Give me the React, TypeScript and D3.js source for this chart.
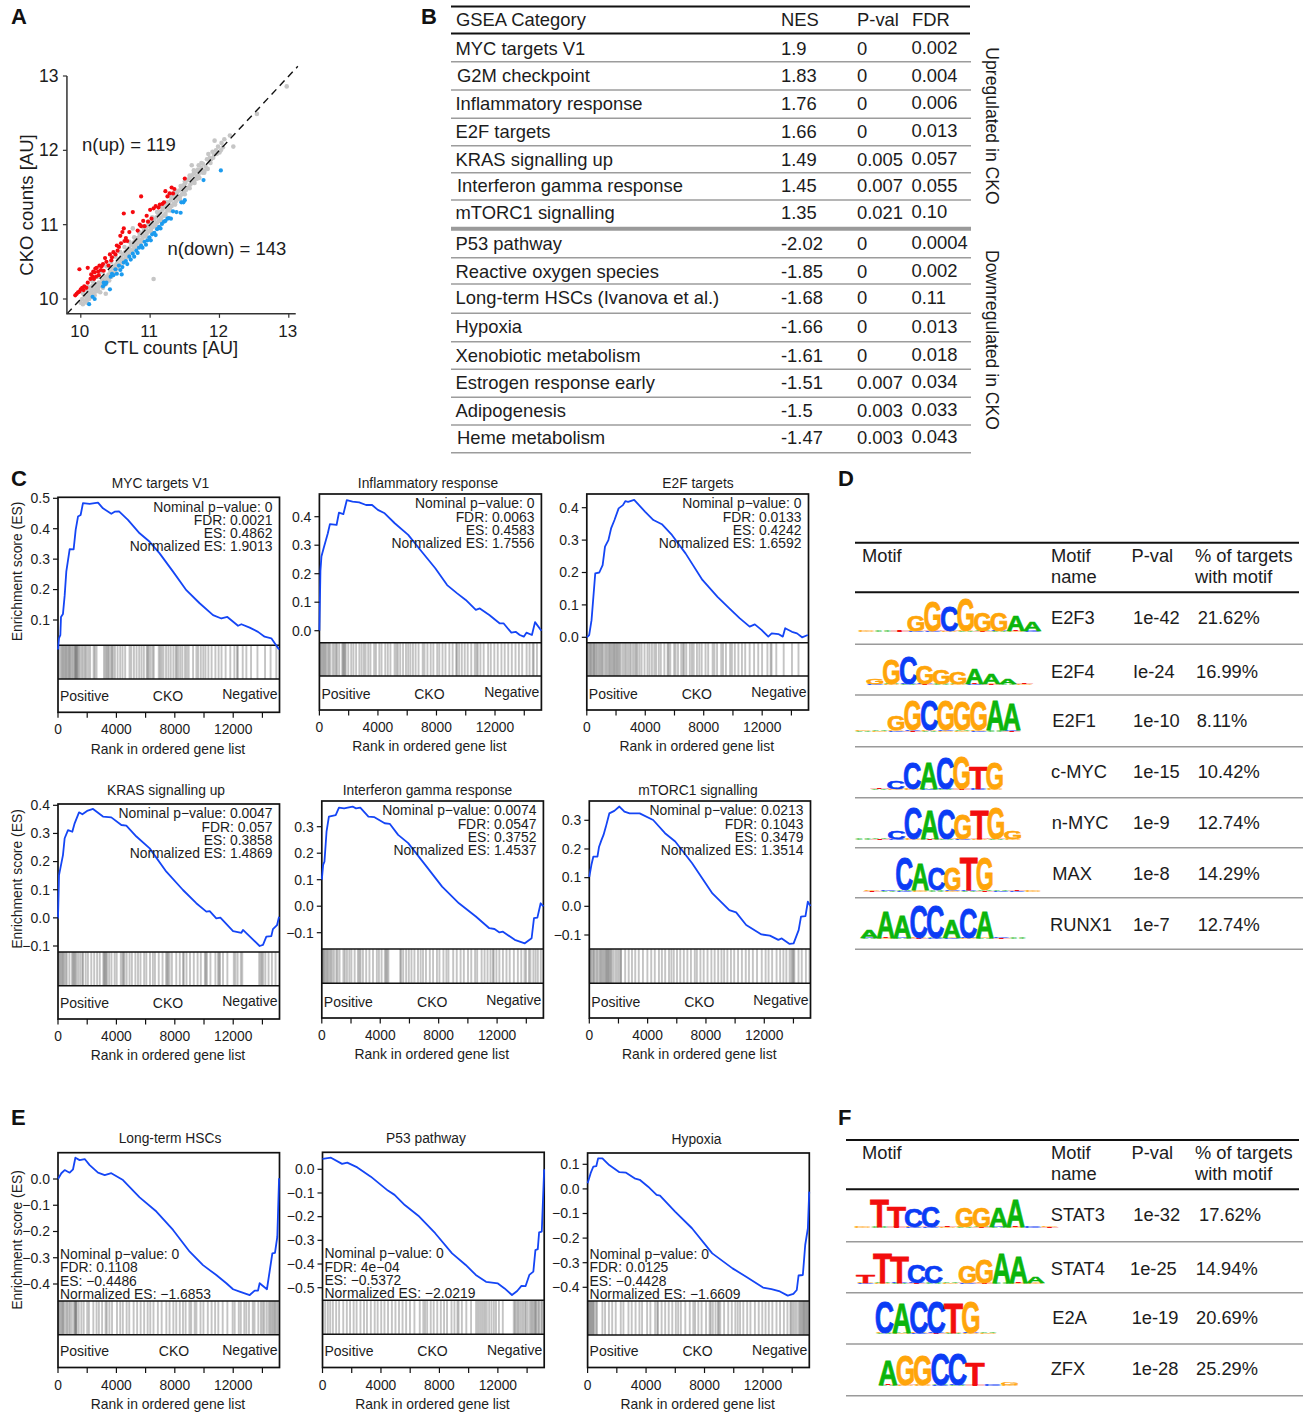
import React from "react";
import * as d3 from "d3";

const FONT = "'Liberation Sans', Arial, sans-serif";

// ---------- Panel A data ----------
const scatterGray: number[][] = [[10.0,9.95],[10.02,10.0],[10.03,9.93],[10.05,10.05],[10.06,9.97],[10.08,10.02],[10.09,9.95],[10.1,10.1],[10.11,10.05],[10.12,10.0],[10.13,10.15],[10.14,10.08],[10.15,10.03],[10.16,10.12],[10.17,10.18],[10.18,10.07],[10.19,10.13],[10.2,10.05],[10.21,10.2],[10.22,10.1],[10.23,10.16],[10.25,10.12],[10.26,10.22],[10.27,10.17],[10.28,10.09],[10.3,10.2],[10.31,10.26],[10.32,10.15],[10.34,10.24],[10.35,10.3],[10.36,10.2],[10.38,10.27],[10.4,10.33],[10.41,10.25],[10.43,10.37],[10.44,10.3],[10.46,10.41],[10.47,10.34],[10.49,10.45],[10.5,10.38],[10.52,10.48],[10.53,10.42],[10.55,10.53],[10.56,10.46],[10.58,10.56],[10.59,10.5],[10.61,10.6],[10.62,10.53],[10.64,10.63],[10.65,10.57],[10.67,10.66],[10.68,10.6],[10.7,10.69],[10.71,10.63],[10.73,10.73],[10.74,10.66],[10.76,10.76],[10.77,10.7],[10.79,10.79],[10.8,10.73],[10.82,10.82],[10.83,10.76],[10.85,10.86],[10.86,10.79],[10.88,10.88],[10.89,10.82],[10.91,10.92],[10.92,10.85],[10.94,10.94],[10.95,10.88],[10.97,10.98],[10.98,10.91],[11.0,11.0],[11.01,10.94],[11.03,11.03],[11.04,10.97],[11.06,11.07],[11.07,11.0],[11.09,11.1],[11.1,11.03],[11.12,11.13],[11.13,11.06],[11.15,11.17],[11.16,11.09],[11.18,11.2],[11.19,11.12],[11.21,11.23],[11.22,11.15],[11.24,11.27],[11.25,11.19],[11.27,11.3],[11.28,11.22],[11.3,11.33],[11.31,11.25],[11.33,11.36],[11.34,11.28],[11.36,11.4],[11.37,11.31],[11.39,11.43],[11.4,11.35],[11.42,11.46],[11.43,11.38],[11.45,11.5],[11.46,11.41],[11.48,11.53],[11.49,11.44],[11.51,11.56],[11.52,11.47],[11.54,11.6],[11.55,11.5],[11.57,11.63],[11.58,11.54],[11.6,11.66],[11.61,11.57],[11.63,11.69],[11.64,11.6],[11.66,11.72],[11.67,11.65],[11.69,11.74],[11.7,11.68],[11.72,11.72],[11.74,11.76],[11.76,11.7],[11.78,11.72],[11.8,11.78],[11.83,11.75],[11.84,11.95],[11.86,11.9],[11.88,11.88],[11.9,11.98],[11.92,11.94],[11.93,12.13],[11.95,12.0],[11.98,12.05],[12.0,11.97],[12.03,12.1],[12.05,12.04],[12.07,12.15],[12.15,12.2],[12.2,12.05],[11.6,11.8],[10.75,10.95],[11.05,10.27],[12.54,12.49],[12.97,12.86],[10.36,10.07],
[10.03,10.08],[10.1,10.16],[10.17,10.24],[10.24,10.3],[10.3,10.37],[10.37,10.44],[10.44,10.5],[10.5,10.57],[10.57,10.63],[10.63,10.7],[10.7,10.77],[10.77,10.83],[10.84,10.9],[10.9,10.97],[10.97,11.04],[11.03,11.1],[11.1,11.17],[11.17,11.24],[11.24,11.3],[11.3,11.38],[11.37,11.45],[11.44,11.52],[11.5,11.58],[11.57,11.66],[11.63,11.73],[11.7,11.8],[11.76,11.82],[11.82,11.88],[11.87,11.83],[11.91,11.9],[11.96,11.95],[12.02,12.0],[11.74,11.83],[11.68,11.62],
[10.1,10.0],[10.17,10.07],[10.24,10.14],[10.31,10.21],[10.38,10.28],[10.45,10.35],[10.52,10.42],[10.59,10.49],[10.66,10.56],[10.73,10.63],[10.8,10.7],[10.87,10.77],[10.94,10.84],[11.01,10.91],[11.08,10.98],[11.15,11.05],[11.22,11.12],[11.29,11.19],[11.36,11.27],[11.43,11.34],[11.5,11.41],[11.57,11.49],[11.64,11.56],[11.71,11.63],[11.78,11.7]];
const scatterRed: number[][] = [[9.92,10.05],[9.94,10.07],[9.96,10.09],[9.98,10.1],[10.0,10.13],[10.02,10.15],[10.04,10.12],[10.05,10.17],[10.08,10.15],[10.1,10.22],[9.98,10.4],[10.1,10.42],[10.14,10.27],[10.15,10.33],[10.17,10.3],[10.18,10.37],[10.19,10.27],[10.2,10.36],[10.21,10.41],[10.22,10.3],[10.23,10.42],[10.25,10.37],[10.26,10.32],[10.27,10.45],[10.29,10.39],[10.3,10.44],[10.32,10.47],[10.33,10.38],[10.35,10.55],[10.37,10.5],[10.4,10.45],[10.42,10.6],[10.44,10.52],[10.45,10.56],[10.47,10.63],[10.5,10.6],[10.52,10.72],[10.53,10.65],[10.55,10.7],[10.57,10.85],[10.58,10.75],[10.6,10.9],[10.62,10.95],[10.63,10.78],[10.65,10.82],[10.67,10.78],[10.62,11.15],[10.75,11.17],[10.7,10.9],[10.82,10.92],[10.85,11.0],[10.87,10.98],[10.9,11.05],[10.92,10.98],[10.95,11.12],[10.97,11.04],[11.0,11.2],[11.02,11.08],[11.05,11.22],[11.08,11.25],[11.12,11.23],[11.14,11.27],[10.87,11.38],[11.2,11.3],[11.22,11.45],[11.25,11.38],[11.28,11.42],[11.31,11.5],[11.33,11.42],[11.35,11.48],[11.5,11.62],[11.18,11.28]];
const scatterBlue: number[][] = [[10.12,9.93],[10.17,10.03],[10.2,10.0],[10.32,10.17],[10.33,10.22],[10.35,10.2],[10.37,10.22],[10.42,10.13],[10.43,10.3],[10.45,10.34],[10.47,10.32],[10.5,10.4],[10.52,10.34],[10.55,10.45],[10.57,10.39],[10.59,10.33],[10.6,10.43],[10.62,10.49],[10.65,10.51],[10.67,10.47],[10.7,10.57],[10.72,10.53],[10.75,10.61],[10.77,10.57],[10.8,10.65],[10.82,10.62],[10.84,10.69],[10.87,10.72],[10.89,10.69],[10.92,10.77],[10.94,10.73],[10.96,10.79],[10.99,10.83],[11.01,10.79],[11.03,10.87],[11.06,10.89],[11.08,10.86],[11.1,10.94],[11.13,10.97],[11.15,10.95],[11.17,11.01],[11.2,11.04],[11.22,11.05],[11.25,11.08],[11.27,11.09],[11.3,11.08],[11.33,11.18],[11.38,11.17],[11.44,11.16],[11.45,11.3],[11.48,11.3],[11.5,11.33],[11.77,11.6],[12.02,11.73]];
const scatterTicks = [10, 11, 12, 13];

// ---------- Panel B data ----------
const gseaCategories = ["MYC targets V1","G2M checkpoint","Inflammatory response","E2F targets","KRAS signalling up","Interferon gamma response","mTORC1 signalling","P53 pathway","Reactive oxygen species","Long-term HSCs (Ivanova et al.)","Hypoxia","Xenobiotic metabolism","Estrogen response early","Adipogenesis","Heme metabolism"];
const gseaNes = ["1.9","1.83","1.76","1.66","1.49","1.45","1.35","-2.02","-1.85","-1.68","-1.66","-1.61","-1.51","-1.5","-1.47"];
const gseaPval = ["0","0","0","0","0.005","0.007","0.021","0","0","0","0","0","0.007","0.003","0.003"];
const gseaFdr = ["0.002","0.004","0.006","0.013","0.057","0.055","0.10","0.0004","0.002","0.11","0.013","0.018","0.034","0.033","0.043"];

// ---------- GSEA curves: [rank, ES] ----------
const curveMyc: number[][] = [[0,0.003],[68,0.04],[160,0.05],[205,0.11],[340,0.12],[456,0.18],[570,0.26],[800,0.333],[1070,0.332],[1210,0.396],[1370,0.44],[1550,0.445],[1710,0.484],[2170,0.482],[2740,0.486],[3080,0.467],[3650,0.449],[3880,0.456],[4180,0.457],[4790,0.429],[5590,0.385],[6280,0.357],[6960,0.319],[7880,0.259],[8790,0.198],[9700,0.155],[10620,0.116],[11190,0.105],[11600,0.11],[12330,0.081],[12560,0.086],[13130,0.075],[13700,0.061],[14150,0.045],[14610,0.04],[15140,0.003]];
const curveInfl: number[][] = [[0,0],[70,0.21],[137,0.26],[300,0.292],[570,0.342],[710,0.374],[1160,0.371],[1320,0.414],[1620,0.409],[1850,0.458],[2240,0.453],[2690,0.45],[3150,0.441],[3560,0.441],[3950,0.424],[4410,0.412],[5090,0.377],[6000,0.336],[6920,0.277],[7830,0.219],[8630,0.16],[9310,0.131],[9890,0.108],[10570,0.073],[10840,0.078],[11480,0.055],[12170,0.026],[12440,0.026],[12970,-0.007],[13260,-0.004],[13540,-0.015],[13810,-0.021],[13990,-0.007],[14360,-0.015],[14570,0.03],[15000,0]];
const curveE2f: number[][] = [[0,0],[160,0.007],[320,0.053],[570,0.197],[845,0.2],[1070,0.223],[1230,0.28],[1460,0.3],[1640,0.336],[1870,0.362],[2150,0.398],[2440,0.408],[2600,0.42],[2790,0.418],[3200,0.424],[3930,0.388],[4500,0.362],[5070,0.349],[5750,0.316],[6670,0.259],[7810,0.177],[8830,0.125],[9630,0.089],[10320,0.059],[11000,0.033],[11350,0.04],[11800,0.023],[12260,0.002],[12490,0.012],[12940,0.01],[13240,0.002],[13400,0.028],[13860,0.017],[14200,0.012],[14540,0],[14930,0.007]];
const curveKras: number[][] = [[0,-0.002],[70,0.152],[340,0.223],[456,0.283],[685,0.312],[980,0.306],[1140,0.336],[1440,0.375],[1670,0.368],[1990,0.38],[2400,0.387],[3080,0.36],[3650,0.357],[4340,0.33],[4680,0.328],[5370,0.289],[6280,0.247],[7420,0.164],[8560,0.099],[9470,0.052],[10160,0.022],[10390,0.024],[10840,-0.002],[11120,0.001],[11990,-0.047],[12560,-0.053],[12670,-0.043],[13810,-0.1],[14040,-0.096],[14270,-0.067],[14610,-0.065],[14720,-0.04],[15000,-0.026],[15140,0.004]];
const curveIfn: number[][] = [[0,0.099],[90,0.156],[180,0.168],[320,0.281],[480,0.338],[940,0.344],[1160,0.372],[1510,0.369],[2080,0.376],[2310,0.369],[2600,0.372],[3150,0.338],[3560,0.336],[4250,0.313],[4590,0.311],[5160,0.269],[5840,0.238],[6990,0.156],[8130,0.074],[9270,0.011],[10410,-0.039],[11320,-0.083],[11670,-0.086],[12010,-0.099],[12240,-0.096],[13040,-0.127],[13720,-0.14],[14180,-0.121],[14340,-0.045],[14570,-0.043],[14790,0.011],[14980,-0.001]];
const curveMtor: number[][] = [[0,0.103],[140,0.144],[270,0.173],[550,0.173],[660,0.208],[820,0.231],[960,0.249],[1120,0.278],[1350,0.324],[1690,0.333],[2030,0.348],[2370,0.33],[2720,0.324],[3400,0.324],[4310,0.301],[5110,0.255],[5800,0.226],[6940,0.15],[8310,0.045],[9450,-0.013],[9910,-0.021],[10590,-0.065],[11620,-0.098],[12190,-0.102],[12760,-0.117],[12990,-0.112],[13520,-0.131],[13790,-0.129],[14130,-0.083],[14290,-0.036],[14590,-0.034],[14750,0.016],[14930,0.001]];
const curveHsc: number[][] = [[0,0],[230,0.022],[456,0.034],[800,0.024],[1030,0.037],[1190,0.081],[1480,0.072],[1830,0.076],[2170,0.053],[2740,0.024],[3200,0.015],[3650,0.022],[4450,-0.004],[5590,-0.07],[6740,-0.124],[7880,-0.194],[9020,-0.277],[9930,-0.328],[10840,-0.366],[11530,-0.397],[11990,-0.42],[12440,-0.429],[13130,-0.442],[13470,-0.425],[13700,-0.425],[13810,-0.397],[14310,-0.42],[14680,-0.283],[14860,-0.281],[15020,-0.22],[15140,0.003]];
const curveP53: number[][] = [[0,0.044],[570,0.049],[1320,0.023],[1670,0.028],[2350,0.008],[3260,-0.031],[4410,-0.09],[4860,-0.108],[5550,-0.151],[6460,-0.196],[7600,-0.27],[8740,-0.355],[9660,-0.404],[10340,-0.446],[11030,-0.475],[11830,-0.482],[12280,-0.503],[12780,-0.531],[13130,-0.514],[13420,-0.492],[13700,-0.493],[13950,-0.446],[14220,-0.432],[14360,-0.341],[14520,-0.337],[14610,-0.266],[14790,-0.263],[14910,-0.066],[14950,0.0]];
const curveHypoxia: number[][] = [[0,0.023],[205,0.064],[390,0.091],[590,0.093],[710,0.124],[1000,0.124],[1460,0.097],[2150,0.068],[2600,0.066],[3170,0.043],[3520,0.037],[4090,0.009],[4660,-0.024],[4890,-0.027],[5910,-0.092],[7050,-0.16],[8420,-0.262],[9790,-0.323],[10710,-0.357],[11850,-0.401],[12420,-0.407],[12990,-0.417],[13520,-0.434],[13900,-0.427],[14130,-0.411],[14250,-0.352],[14540,-0.35],[14700,-0.228],[14880,-0.16],[14970,-0.011]];

// ---------- GSEA barcode ranks ----------
const hitsMyc = [60,180,260,340,420,500,560,640,720,780,850,930,1020,1120,1170,1210,1250,1300,1350,1420,1520,1640,1750,1860,1950,2080,2200,2440,2520,2640,3150,3260,3330,3420,3500,3620,3700,3780,3900,4080,4260,4420,4600,4900,5020,5200,5380,5560,5720,5880,6080,6140,6220,6340,6480,6560,6900,7000,7100,7220,7400,7560,7720,7900,8060,8130,8240,8380,8520,8700,8820,8950,9250,9480,9600,9780,9950,10100,10300,10520,10780,11000,11200,11480,11800,12080,12260,12320,12650,12900,13220,13660,14180,14560,14950];
const hitsInfl = [30,80,150,230,300,380,460,560,650,740,900,1010,1120,1200,1340,1540,1600,1660,1720,1780,1950,2150,2300,2480,2700,2850,3000,3120,3300,3450,3700,3820,4050,4200,4450,4620,4800,5080,5200,5300,5460,5650,5850,6000,6150,6320,6500,6700,6980,7100,7300,7520,7700,7960,8100,8320,8520,8780,9000,9240,9300,9440,9620,9820,10020,10260,10500,10620,10700,10880,11100,11400,11580,11820,12050,12300,12520,12760,13000,13250,13480,13700,14000,14200,14420,14480,14700];
const hitsE2f = [40,120,200,260,320,400,480,520,600,680,780,860,940,1020,1100,1220,1320,1400,1500,1580,1660,1740,1820,1880,1960,2040,2120,2200,2280,2420,2540,2640,2760,2880,2980,3120,3240,3340,3420,3560,3700,3900,4100,4240,4400,4560,4680,4860,5000,5240,5460,5520,5640,5900,6000,6160,6380,6500,6580,6720,6960,7100,7220,7440,7600,7760,8020,8200,8500,8620,8800,9080,9200,9400,9680,9800,10000,10240,10480,10700,11000,11300,11580,11840,12200,12420,12480,12800,13300,13860,14300];
const hitsKras = [50,120,190,270,340,420,520,600,780,960,1040,1100,1180,1250,1380,1520,1660,1720,1900,2050,2280,2480,2680,2860,3100,3160,3220,3290,3360,3500,3660,3880,4020,4300,4420,4480,4550,4700,4900,5060,5300,5480,5650,5900,6050,6300,6500,6640,6900,7160,7400,7480,7540,7640,7800,8100,8340,8560,8620,8800,9040,9300,9560,9780,10060,10120,10200,10440,10780,10960,11040,11100,11300,11600,12040,12150,12300,12520,12620,13780,13880,13960,14050,14200,14420,14650,14900];
const hitsIfn = [20,70,120,180,260,340,420,520,600,700,820,980,1060,1200,1460,1560,1700,1860,2000,2220,2440,2540,2620,2780,3000,3220,3460,3720,3860,4040,4260,4340,4420,4500,5300,5360,5500,5700,5880,6060,6260,6500,6680,6840,7040,7300,7520,7780,7950,8220,8420,8560,8880,9120,9380,9600,9880,10100,10360,10500,10800,11000,11200,11400,11560,11620,11800,12000,12240,12480,12700,12980,13250,13480,13700,13800,14000,14100,14300,14450,14600,14800];
const hitsMtor = [30,90,160,260,320,420,520,620,720,800,880,960,1040,1120,1180,1240,1300,1360,1440,1500,1620,1760,1880,2000,2120,2140,2420,2660,2880,3100,3340,3620,3920,4180,4420,4700,4900,5120,5380,5540,5700,5920,6140,6380,6620,6860,7120,7260,7500,7720,7980,8240,8460,8700,8920,9100,9320,9560,9780,10040,10300,10560,10780,11040,11320,11640,11900,12100,12340,12640,12880,13100,13300,13520,13640,13720,13780,13840,14120,14340,14620,14860];
const hitsHsc = [40,110,190,270,340,400,520,620,720,820,940,1080,1160,1200,1240,1280,1420,1600,1760,2000,2120,2420,2640,2800,3020,3260,3340,3520,3700,4040,4260,4440,4700,4880,5180,5420,5660,5900,6140,6320,6540,6840,7100,7420,7640,7900,8100,8340,8560,8740,9000,9120,9360,9480,9760,9960,10260,10520,10760,10980,11280,11600,11960,12100,12380,12520,12760,12900,13080,13340,13460,13720,13900,14020,14120,14280,14420,14520,14620,14700,14800,14880,14960,15060];
const hitsP53 = [30,180,360,520,700,920,1120,1400,1640,1860,2100,2300,2560,2800,3000,3260,3520,3720,3960,4180,4420,4680,4920,5160,5400,5640,5900,6200,6560,6800,6920,7060,7300,7500,7740,7980,8200,8400,8700,8900,9100,9180,9400,9700,10020,10360,10480,10600,10720,10840,10960,11080,11240,11400,11560,11700,11900,12160,12900,12980,13080,13180,13280,13400,13520,13640,13720,13840,13980,14080,14160,14240,14330,14380,14440,14560,14620,14760,14820];
const hitsHypoxia = [20,80,140,200,260,320,380,440,560,640,1000,1180,1440,1660,1900,2240,2420,2760,2980,3240,3500,3680,4020,4240,4560,4700,4760,5000,5240,5480,5720,5960,6120,6300,6600,6900,7140,7260,7480,7700,8000,8240,8320,8460,8640,8800,8860,8960,9220,9500,9740,9980,10140,10300,10520,10780,11000,11300,11560,11800,12020,12240,12480,12760,13000,13260,13500,13700,13760,13880,14000,14120,14260,14340,14420,14500,14560,14620,14680,14750,14820,14880];

// ---------- GSEA panel tables ----------
const panelTitles = ["MYC targets V1","Inflammatory response","E2F targets","KRAS signalling up","Interferon gamma response","mTORC1 signalling","Long-term HSCs","P53 pathway","Hypoxia"];
const panelCurves = [curveMyc,curveInfl,curveE2f,curveKras,curveIfn,curveMtor,curveHsc,curveP53,curveHypoxia];
const panelHits = [hitsMyc,hitsInfl,hitsE2f,hitsKras,hitsIfn,hitsMtor,hitsHsc,hitsP53,hitsHypoxia];
const panelYTicks = [[0.1,0.2,0.3,0.4,0.5],[0,0.1,0.2,0.3,0.4],[0,0.1,0.2,0.3,0.4],[-0.1,0,0.1,0.2,0.3,0.4],[-0.1,0,0.1,0.2,0.3],[-0.1,0,0.1,0.2,0.3],[-0.4,-0.3,-0.2,-0.1,0],[-0.5,-0.4,-0.3,-0.2,-0.1,0],[-0.4,-0.3,-0.2,-0.1,0,0.1]];
const panelNotes = [
  ["Nominal p\u2212value: 0","FDR: 0.0021","ES: 0.4862","Normalized ES: 1.9013"],
  ["Nominal p\u2212value: 0","FDR: 0.0063","ES: 0.4583","Normalized ES: 1.7556"],
  ["Nominal p\u2212value: 0","FDR: 0.0133","ES: 0.4242","Normalized ES: 1.6592"],
  ["Nominal p\u2212value: 0.0047","FDR: 0.057","ES: 0.3858","Normalized ES: 1.4869"],
  ["Nominal p\u2212value: 0.0074","FDR: 0.0547","ES: 0.3752","Normalized ES: 1.4537"],
  ["Nominal p\u2212value: 0.0213","FDR: 0.1043","ES: 0.3479","Normalized ES: 1.3514"],
  ["Nominal p\u2212value: 0","FDR: 0.1108","ES: \u22120.4486","Normalized ES: \u22121.6853"],
  ["Nominal p\u2212value: 0","FDR: 4e\u221204","ES: \u22120.5372","Normalized ES: \u22122.0219"],
  ["Nominal p\u2212value: 0","FDR: 0.0125","ES: \u22120.4428","Normalized ES: \u22121.6609"],
];
const rankTicks = [0,2000,4000,6000,8000,10000,12000,14000];
const rankLabels = [0,4000,8000,12000];

// Layout only (pixel frames and axis calibration), not data.
const frames = [
  {l:58,r:279.5,t:497.3,es:645.3,bar:679,b:712.3,tx:160.5,ty:488,rm:15170,yA:[0.5,498.3],yB:[0.1,620],labY:571.5,left:false},
  {l:319.4,r:541.4,t:494,es:642.7,bar:676,b:710,tx:428,ty:488,rm:15000,yA:[0.4,516.7],yB:[0,630.7],labY:0,left:false},
  {l:586.8,r:808.5,t:494,es:642.7,bar:676,b:710,tx:698,ty:488,rm:14976,yA:[0.4,507.7],yB:[0,637.3],labY:0,left:false},
  {l:58,r:279.5,t:804,es:952,bar:985.7,b:1019,tx:166,ty:795,rm:15170,yA:[0.4,805.3],yB:[-0.1,946],labY:879,left:false},
  {l:321.8,r:543.4,t:801,es:949,bar:983.3,b:1018,tx:427.5,ty:795,rm:14976,yA:[0.3,826.7],yB:[-0.1,932.7],labY:0,left:false},
  {l:589.3,r:810.5,t:801,es:949,bar:983.3,b:1018,tx:698,ty:795,rm:14930,yA:[0.3,820.3],yB:[-0.1,935],labY:0,left:false},
  {l:58,r:279.5,t:1152.7,es:1301,bar:1334.7,b:1367.5,tx:170,ty:1143,rm:15170,yA:[0,1179],yB:[-0.4,1284],labY:1240,left:true},
  {l:322.5,r:544.2,t:1152.3,es:1300.3,bar:1334.3,b:1367.5,tx:426,ty:1143,rm:14953,yA:[0,1169.3],yB:[-0.5,1287.7],labY:0,left:true},
  {l:587.6,r:809.3,t:1153,es:1301,bar:1335,b:1367.5,tx:696.5,ty:1144,rm:14976,yA:[0.1,1164.3],yB:[-0.4,1287.3],labY:0,left:true},
];
const ckoOffset = [110,110,110,110,110.4,110,116,110,110];

// ---------- Motif tables ----------
const motifsD = ["E2F3","E2F4","E2F1","c-MYC","n-MYC","MAX","RUNX1"];
const pvalsD = ["1e-42","Ie-24","1e-10","1e-15","1e-9","1e-8","1e-7"];
const pctsD = ["21.62%","16.99%","8.11%","10.42%","12.74%","14.29%","12.74%"];
const motifsF = ["STAT3","STAT4","E2A","ZFX"];
const pvalsF = ["1e-32","1e-25","1e-19","1e-28"];
const pctsF = ["17.62%","14.94%","20.69%","25.29%"];
const logoSeqD = ["...GGCGGGAA","GGCGGGAAA.","..GGCGGGAA",".CCACGTG","..CCACGTGG","..CACGTG...","AAACCACA.."];
const logoHeightsD = [[0,0,0,16,30,25,33,19,19,16,9],[5,25,28,18,15,12,16,11,5,0],[0,0,15,31,31,31,29,29,31,27],[0,8,27,26,32,33,23,27],[0,0,8,32,29,30,25,29,32,8],[0,0,33,27,22,23,33,33,0,0,0],[8,26,23,33,33,18,31,26,0,0]];
const logoSeqF = [".TTCC.GGAA..","TTTCC.GGAAA","CACCTG.","AGGCCT.G"];
const logoHeightsF = [[3,28,21,18,21,0,20,20,20,28,0,0],[8,31,27,19,17,0,17,24,31,27,7],[32,30,32,32,31,32,0],[25,31,31,32,32,23,0,3]];
const noiseLetters = "GATCCGATAGCTAGGCATCGTACGA";

const logoFramesD = [{x:858,w:16.6,b:632},{x:866.7,w:16.6,b:685},{x:855,w:16.5,b:731.7},{x:871,w:16.5,b:790},{x:855,w:16.6,b:840},{x:864,w:16.1,b:891.7},{x:861,w:16.5,b:939}];
const logoFramesF = [{x:854,w:17,b:1228.3},{x:857,w:17,b:1284},{x:875.7,w:17.3,b:1334},{x:879.3,w:17.4,b:1386}];
const rowPosD = [{n:1051,y:624.3,p:1133,q:1197.7},{n:1051,y:678.3,p:1133,q:1196},{n:1052.3,y:726.7,p:1133,q:1196.7},{n:1051,y:778.3,p:1133,q:1197.7},{n:1051.7,y:829,p:1133,q:1197.7},{n:1052.3,y:880,p:1133,q:1197.7},{n:1050,y:930.7,p:1133,q:1197.7}];
const rowPosF = [{n:1050.7,y:1221,p:1133.3,q:1199},{n:1050.7,y:1275,p:1130,q:1195.7},{n:1052.3,y:1324,p:1131.7,q:1196},{n:1050.7,y:1375,p:1131.7,q:1196}];
const rulesD = [644.3,695,746.7,797.7,847.7,897.7,949.3];
const rulesF = [1241.7,1292.7,1344,1395.7];

const baseColor: Record<string,string> = { A:"#0bb50b", C:"#0b3cf5", G:"#ffa50a", T:"#f20d0d" };
const baseAdvance: Record<string,number> = { A:0.722, C:0.722, G:0.778, T:0.611 };

function Glyph({ ch, x, w, base, h }: { ch:string; x:number; w:number; base:number; h:number }) {
  const c = ch.toUpperCase();
  if (!baseColor[c] || h <= 0) return null;
  const sw = w * 1.12;
  return (
    <text transform={`translate(${x - 0.06 * w},${base}) scale(${sw / (baseAdvance[c] * 100)},${h / 71.6})`}
      fontFamily={FONT} fontWeight="bold" fontSize={100} fill={baseColor[c]}
      stroke={baseColor[c]} strokeWidth={h > 3 ? 0.7 : 0} style={{ vectorEffect: "non-scaling-stroke" } as any}>{c}</text>
  );
}

function Logo({ seq, heights, f, seed }: { seq:string; heights:number[]; f:{x:number;w:number;b:number}; seed:number }) {
  return (
    <g>
      {heights.map((h, i) => {
        const x = f.x + i * f.w;
        const n1 = noiseLetters[(seed + i) % noiseLetters.length];
        const n2 = noiseLetters[(seed + i * 3 + 5) % noiseLetters.length];
        return (
          <g key={i}>
            <Glyph ch={n1} x={x} w={f.w} base={f.b} h={1.1} />
            <Glyph ch={n2} x={x} w={f.w} base={f.b - 1.1} h={0.9} />
            <Glyph ch={seq[i] || "."} x={x} w={f.w} base={f.b - 1.5} h={h} />
          </g>
        );
      })}
    </g>
  );
}

function Txt(p: any) {
  return <text fontFamily={FONT} fill="#1c1c1c" {...p} />;
}

function ScatterA() {
  const x = d3.scaleLinear().domain([10, 13]).range([80.8, 288.8]);
  const y = d3.scaleLinear().domain([10, 13]).range([299, 76]);
  const line = d3.line<number>().x(v => x(v)).y(v => y(v));
  const x0 = x(9.8), y0 = y(9.8), x1 = x(13.1);
  return (
    <g>
      {scatterGray.map((p, i) => <circle key={"g"+i} cx={x(p[0])} cy={y(p[1])} r={2.3} fill="#c6c6c6" />)}
      {scatterRed.map((p, i) => <circle key={"r"+i} cx={x(p[0])} cy={y(p[1])} r={2.1} fill="#f5090f" />)}
      {scatterBlue.map((p, i) => <circle key={"b"+i} cx={x(p[0])} cy={y(p[1])} r={2.1} fill="#1c9bee" />)}
      <path d={line([9.8, 13.13]) || ""} fill="none" stroke="#111" strokeWidth={1.4} strokeDasharray="7,5" />
      <path d={`M${x0},76V${y0}H${x1}`} fill="none" stroke="#333" strokeWidth={1.5} />
      {scatterTicks.map(t => (
        <g key={t}>
          <line x1={x(t)} x2={x(t)} y1={y0} y2={y0 + 4} stroke="#333" strokeWidth={1.2} />
          <line x1={x0 - 4} x2={x0} y1={y(t)} y2={y(t)} stroke="#333" strokeWidth={1.2} />
          <Txt x={x(t)-1} y={336.5} textAnchor="middle" fontSize={17}>{t}</Txt>
          <Txt x={58.5} y={y(t) + 6} textAnchor="end" fontSize={17.5}>{t}</Txt>
        </g>
      ))}
      <Txt x={171} y={354} textAnchor="middle" fontSize={18.4}>CTL counts [AU]</Txt>
      <Txt transform="translate(33,205) rotate(-90)" textAnchor="middle" fontSize={18.6}>CKO counts [AU]</Txt>
      <Txt x={82} y={151} fontSize={18.5}>n(up) = 119</Txt>
      <Txt x={167.5} y={255} fontSize={18.5}>n(down) = 143</Txt>
    </g>
  );
}

function TableB() {
  const rowBase = [55,82.3,110,137.7,165.7,192.3,219,250,277.7,304.3,333.3,361.7,389,416.7,444];
  const rules = [61.7,90,118.3,145.7,172.7,200,257.7,284,313.3,341.7,369.3,397.3,425,452.7];
  const fs = 18.4;
  return (
    <g>
      <line x1={451} x2={970} y1={6.5} y2={6.5} stroke="#111" strokeWidth={2} />
      <line x1={451} x2={970} y1={33.5} y2={33.5} stroke="#111" strokeWidth={2} />
      {rules.map((r, i) => <line key={i} x1={451} x2={971} y1={r} y2={r} stroke="#9c9c9c" strokeWidth={1.5} />)}
      <line x1={451} x2={971} y1={228.7} y2={228.7} stroke="#9a9a9a" strokeWidth={4} />
      <Txt x={456} y={26} fontSize={fs}>GSEA Category</Txt>
      <Txt x={781} y={26} fontSize={fs}>NES</Txt>
      <Txt x={857} y={26} fontSize={fs}>P-val</Txt>
      <Txt x={912} y={26} fontSize={fs}>FDR</Txt>
      {gseaCategories.map((c, i) => (
        <g key={c}>
          <Txt x={c === "G2M checkpoint" || c === "Interferon gamma response" || c === "Heme metabolism" ? 457 : 455.5} y={rowBase[i]} fontSize={fs}>{c}</Txt>
          <Txt x={781} y={rowBase[i]} fontSize={fs}>{gseaNes[i]}</Txt>
          <Txt x={857} y={rowBase[i]} fontSize={fs}>{gseaPval[i]}</Txt>
          <Txt x={911.5} y={rowBase[i] - 0.7} fontSize={fs}>{gseaFdr[i]}</Txt>
        </g>
      ))}
      <Txt transform="translate(986,126) rotate(90)" textAnchor="middle" fontSize={17.6}>Upregulated in CKO</Txt>
      <Txt transform="translate(986,340) rotate(90)" textAnchor="middle" fontSize={17.6}>Downregulated in CKO</Txt>
    </g>
  );
}

const fmtTick = (v: number) => (v < 0 ? "\u2212" : "") + Math.abs(v).toFixed(1);

function GseaPanel({ idx }: { idx:number }) {
  const f = frames[idx];
  const x = d3.scaleLinear().domain([0, 15170]).range([f.l, f.r]);
  const readX = d3.scaleLinear().domain([0, f.rm]).range([f.l, f.r]);
  const y = d3.scaleLinear().domain([f.yA[0], f.yB[0]]).range([f.yA[1], f.yB[1]]);
  const line = d3.line<number[]>().x(d => readX(d[0])).y(d => y(d[1]));
  const notes = panelNotes[idx];
  const w = f.r - f.l;
  return (
    <g>
      <Txt x={f.tx} y={f.ty} textAnchor="middle" fontSize={13.8}>{panelTitles[idx]}</Txt>
      {panelHits[idx].map((h, i) => (
        <line key={i} x1={readX(h)} x2={readX(h)} y1={f.es} y2={f.bar} stroke="#4c4c4c" strokeOpacity={0.33} strokeWidth={1.9} />
      ))}
      <rect x={f.l} y={f.t} width={w} height={f.b - f.t} fill="none" stroke="#111" strokeWidth={1.7} />
      <line x1={f.l} x2={f.r} y1={f.es} y2={f.es} stroke="#111" strokeWidth={1.5} />
      <line x1={f.l} x2={f.r} y1={f.bar} y2={f.bar} stroke="#111" strokeWidth={1.5} />
      <path d={line(panelCurves[idx]) || ""} fill="none" stroke="#1445f5" strokeWidth={1.8} strokeLinejoin="round" />
      {panelYTicks[idx].map(t => (
        <g key={t}>
          <line x1={f.l - 5} x2={f.l} y1={y(t)} y2={y(t)} stroke="#111" strokeWidth={1.2} />
          <Txt x={f.l - 8} y={y(t) + 4.8} textAnchor="end" fontSize={14}>{fmtTick(t)}</Txt>
        </g>
      ))}
      {rankTicks.map(t => <line key={t} x1={x(t)} x2={x(t)} y1={f.b} y2={f.b + 5.5} stroke="#111" strokeWidth={1.2} />)}
      {rankLabels.map(t => <Txt key={t} x={x(t)} y={f.b + 22} textAnchor="middle" fontSize={13.8}>{t}</Txt>)}
      <Txt x={f.l + 110} y={f.b + 41.2} textAnchor="middle" fontSize={13.9}>Rank in ordered gene list</Txt>
      <Txt x={f.l + 2} y={f.b - 11.3} fontSize={14}>Positive</Txt>
      <Txt x={f.l + ckoOffset[idx]} y={f.b - 11.3} textAnchor="middle" fontSize={14}>CKO</Txt>
      <Txt x={f.r - 2} y={f.b - 13} textAnchor="end" fontSize={14}>Negative</Txt>
      {f.labY > 0 && <Txt transform={`translate(21.5,${f.labY}) rotate(-90)`} textAnchor="middle" fontSize={13.9}>Enrichment score (ES)</Txt>}
      {notes.map((n, i) => f.left
        ? <Txt key={i} x={f.l + 2} y={f.es - 42 + i * 13.3} fontSize={13.9}>{n}</Txt>
        : <Txt key={i} x={f.r - 7} y={f.t + 14.4 + i * 13.2} textAnchor="end" fontSize={13.9}>{n}</Txt>)}
    </g>
  );
}

function MotifTable({ top, head, header, lx, rules, names, pvals, pcts, rows, seqs, hts, lf }: any) {
  const fs = 18.3;
  return (
    <g>
      <line x1={lx} x2={1299} y1={top} y2={top} stroke="#111" strokeWidth={2} />
      <line x1={lx} x2={1299} y1={head} y2={head} stroke="#111" strokeWidth={2} />
      {rules.map((r: number, i: number) => <line key={i} x1={lx} x2={1303} y1={r} y2={r} stroke="#9a9a9a" strokeWidth={1.5} />)}
      <Txt x={862} y={header} fontSize={fs}>Motif</Txt>
      <Txt x={1051} y={header} fontSize={fs}>Motif</Txt>
      <Txt x={1051} y={header + 20.6} fontSize={fs}>name</Txt>
      <Txt x={1131.5} y={header} fontSize={fs}>P-val</Txt>
      <Txt x={1195} y={header} fontSize={fs}>% of targets</Txt>
      <Txt x={1195} y={header + 20.6} fontSize={fs}>with motif</Txt>
      {names.map((n: string, i: number) => (
        <g key={n}>
          <Logo seq={seqs[i]} heights={hts[i]} f={lf[i]} seed={i * 4} />
          <Txt x={rows[i].n} y={rows[i].y} fontSize={fs}>{n}</Txt>
          <Txt x={rows[i].p} y={rows[i].y} fontSize={fs}>{pvals[i]}</Txt>
          <Txt x={rows[i].q} y={rows[i].y} fontSize={fs}>{pcts[i]}</Txt>
        </g>
      ))}
    </g>
  );
}

export default function App() {
  const labels = [["A",11,24],["B",421,24],["C",11,485.5],["D",838,485.5],["E",11,1125],["F",838,1125]] as [string,number,number][];
  return (
    <svg width={1309} height={1413} viewBox="0 0 1309 1413" style={{ position:"absolute", left:0, top:0, display:"block", background:"#fff" }}>
      {labels.map(([t, x, y]) => <text key={t} x={x} y={y} fontFamily={FONT} fontWeight="bold" fontSize={22} fill="#111">{t}</text>)}
      <ScatterA />
      <TableB />
      {frames.map((_, i) => <GseaPanel key={i} idx={i} />)}
      <MotifTable top={542.7} head={592.3} header={562.3} lx={855} rules={rulesD} names={motifsD} pvals={pvalsD} pcts={pctsD} rows={rowPosD} seqs={logoSeqD} hts={logoHeightsD} lf={logoFramesD} />
      <MotifTable top={1140} head={1189.3} header={1159.3} lx={846} rules={rulesF} names={motifsF} pvals={pvalsF} pcts={pctsF} rows={rowPosF} seqs={logoSeqF} hts={logoHeightsF} lf={logoFramesF} />
    </svg>
  );
}
